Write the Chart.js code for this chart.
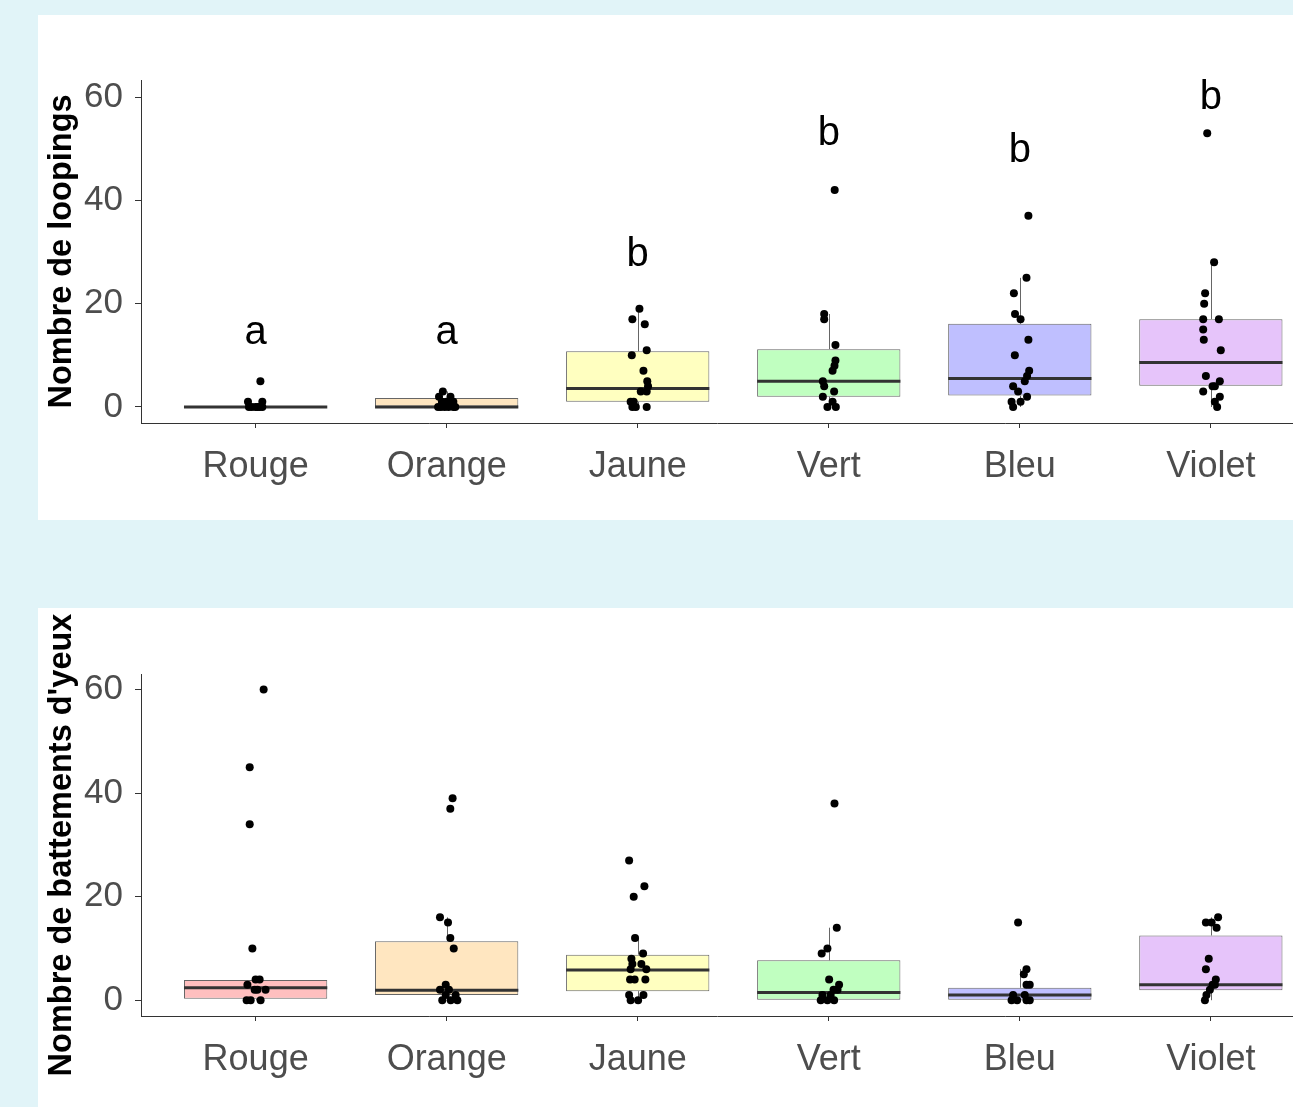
<!DOCTYPE html>
<html>
<head>
<meta charset="utf-8">
<script src="https://cdn.jsdelivr.net/npm/chart.js@4.4.0/dist/chart.umd.min.js"></script>
<style>
  html, body { margin: 0; padding: 0; }
  body { width: 1293px; height: 1107px; background: #e1f4f8; overflow: hidden; position: relative; }
  .panel { position: absolute; left: 38px; background: #ffffff; }
  #panelTop { top: 15px; width: 1259px; height: 505px; }
  #panelBottom { top: 608px; width: 1259px; height: 499px; }
</style>
</head>
<body>
<div class="panel" id="panelTop"><canvas id="chartTop" width="1259" height="505"></canvas></div>
<div class="panel" id="panelBottom"><canvas id="chartBottom" width="1259" height="499"></canvas></div>
<script>
// Categories and colours
const categories = ["Rouge", "Orange", "Jaune", "Vert", "Bleu", "Violet"];
const boxFill = ["#ffbfbf", "#ffe6c0", "#ffffc0", "#c0ffc0", "#bfbfff", "#e6c4fa"];

// Top chart: Nombre de loopings
const topQ1 = [0, 0, 1.0, 2.0, 2.2, 4.1];
const topMedian = [0, 0, 3.6, 5.0, 5.5, 8.6];
const topQ3 = [0, 1.75, 10.8, 11.2, 16.1, 17.0];
const topWhiskerLow = [0, 0, 0, 0, 0, 0];
const topWhiskerHigh = [0, 3, 19, 18, 25, 28];
const topLetters = ["a", "a", "b", "b", "b", "b"];
const topLetterY = [14.3, 14.3, 29.4, 52.8, 49.5, 59.8];

const topValues = [
  [5, 1, 1, 0, 0, 0, 0, 0, 0],
  [3, 2, 2, 1, 1, 1, 0, 0, 0, 0, 0, 0],
  [19, 17, 16, 11, 10, 7, 5, 4, 3, 3, 1, 1, 0, 0, 0],
  [42, 18, 17, 12, 9, 8, 7, 5, 4, 3, 2, 1, 0, 0],
  [37, 25, 22, 18, 17, 13, 10, 7, 6, 5, 4, 3, 2, 1, 1, 0],
  [53, 28, 22, 20, 17, 17, 15, 13, 11, 6, 5, 4, 4, 3, 2, 1, 0],
];
const topJitter = [
  [0.025, -0.04, 0.035, -0.035, 0.01, 0.035, -0.02, 0.0, 0.02],
  [-0.02, -0.04, 0.02, 0.035, -0.025, 0.0, -0.03, -0.01, 0.01, 0.035, 0.045, -0.045],
  [0.009, -0.028, 0.037, 0.047, -0.031, 0.03, 0.05, 0.054, 0.047, 0.016, -0.037, -0.021, -0.028, -0.01, 0.047],
  [0.031, -0.024, -0.024, 0.035, 0.035, 0.03, 0.02, -0.031, -0.024, 0.028, -0.031, 0.02, -0.007, 0.037],
  [0.045, 0.035, -0.031, -0.025, 0.004, 0.045, -0.026, 0.049, 0.038, 0.026, -0.035, -0.009, 0.038, -0.043, 0.004, -0.035],
  [-0.019, 0.017, -0.03, -0.035, -0.04, 0.042, -0.04, -0.037, 0.052, -0.026, 0.047, 0.021, 0.009, -0.04, 0.047, 0.021, 0.033],
];

// Bottom chart: Nombre de battements d'yeux
const botQ1 = [0.3, 1.0, 1.75, 0, 0, 1.9];
const botMedian = [2.4, 1.9, 5.85, 1.5, 1.0, 3.0];
const botQ3 = [3.9, 11.4, 8.8, 7.7, 2.4, 12.5];
const botWhiskerLow = [0, 0, 0, 0, 0, 0];
const botWhiskerHigh = [4, 16, 12, 14, 6, 16];

const botValues = [
  [60, 45, 34, 10, 4, 4, 3, 2, 2, 2, 0, 0, 0],
  [39, 37, 16, 15, 12, 10, 3, 2, 2, 1, 1, 0, 0, 0],
  [27, 22, 20, 12, 9, 8, 7, 7, 6, 6, 4, 4, 4, 1, 1, 0, 0],
  [38, 14, 10, 9, 4, 3, 2, 2, 1, 1, 0, 0, 0],
  [15, 6, 5, 3, 3, 1, 1, 0, 0, 0, 0],
  [16, 15, 15, 14, 8, 6, 4, 3, 3, 2, 1, 0],
];
const botJitter = [
  [0.042, -0.031, -0.031, -0.017, 0.0, 0.021, -0.043, 0.009, 0.052, -0.005, -0.047, -0.026, 0.026],
  [0.031, 0.019, -0.035, 0.007, 0.019, 0.037, -0.005, -0.035, 0.012, 0.047, -0.005, -0.023, 0.021, 0.056],
  [-0.045, 0.035, -0.021, -0.014, 0.028, -0.033, 0.019, -0.028, 0.045, -0.037, -0.04, -0.016, 0.04, -0.045, 0.03, -0.037, 0.002],
  [0.03, 0.042, -0.007, -0.037, 0.002, 0.054, 0.025, 0.046, -0.033, 0.01, -0.042, -0.007, 0.028],
  [-0.009, 0.035, 0.021, 0.035, 0.052, -0.035, 0.026, -0.043, -0.014, 0.035, 0.052],
  [0.038, -0.026, 0.004, 0.03, -0.011, -0.026, 0.026, 0.009, 0.021, -0.005, -0.023, -0.031],
];

const yTicks = [0, 20, 40, 60];
const fontFamily = "'Liberation Sans', Arial, sans-serif";
const boxWidth = 0.75;

// Plugin: whiskers behind the boxes, medians on the boxes, letters on top
const boxExtras = {
  id: "boxExtras",
  beforeDatasetsDraw(chart) {
    const o = chart.options.plugins.boxExtras;
    const x = chart.scales.x, y = chart.scales.y, ctx = chart.ctx;
    ctx.save();
    ctx.strokeStyle = "#666666";
    ctx.lineWidth = 1;
    categories.forEach((c, i) => {
      const px = Math.round(x.getPixelForValue(i)) + 0.5;
      ctx.beginPath();
      ctx.moveTo(px, y.getPixelForValue(o.q3[i]));
      ctx.lineTo(px, y.getPixelForValue(o.high[i]));
      ctx.moveTo(px, y.getPixelForValue(o.q1[i]));
      ctx.lineTo(px, y.getPixelForValue(o.low[i]));
      ctx.stroke();
    });
    ctx.restore();
  },
  afterDatasetDraw(chart, args) {
    if (args.index !== 0) return;
    const o = chart.options.plugins.boxExtras;
    const x = chart.scales.x, y = chart.scales.y, ctx = chart.ctx;
    ctx.save();
    ctx.strokeStyle = "#333333";
    ctx.lineWidth = 3;
    categories.forEach((c, i) => {
      const left = x.getPixelForValue(i - boxWidth / 2);
      const right = x.getPixelForValue(i + boxWidth / 2);
      const py = y.getPixelForValue(o.median[i]);
      ctx.beginPath();
      ctx.moveTo(left, py);
      ctx.lineTo(right, py);
      ctx.stroke();
    });
    ctx.restore();
  },
  afterDatasetsDraw(chart) {
    const o = chart.options.plugins.boxExtras;
    if (!o.letters) return;
    const x = chart.scales.x, y = chart.scales.y, ctx = chart.ctx;
    ctx.save();
    ctx.fillStyle = "#000000";
    ctx.font = "40px " + fontFamily;
    ctx.textAlign = "center";
    ctx.textBaseline = "middle";
    o.letters.forEach((t, i) => {
      ctx.fillText(t, x.getPixelForValue(i), y.getPixelForValue(o.letterY[i]));
    });
    ctx.restore();
  },
};

function makeChart(canvasId, cfg) {
  const boxData = categories.map((c, i) => ({ x: i, y: [cfg.q1[i], cfg.q3[i]] }));
  const pointData = [];
  cfg.values.forEach((vals, i) => {
    vals.forEach((v, k) => pointData.push({ x: i + cfg.jitter[i][k], y: v }));
  });

  return new Chart(document.getElementById(canvasId), {
    type: "bar",
    data: {
      datasets: [
        {
          type: "bar",
          data: boxData,
          backgroundColor: boxFill,
          borderColor: "#666666",
          borderWidth: 1,
          borderSkipped: false,
          barPercentage: boxWidth,
          categoryPercentage: 1,
          order: 2,
        },
        {
          type: "scatter",
          data: pointData,
          backgroundColor: "#000000",
          borderWidth: 0,
          pointRadius: 4,
          order: 1,
        },
      ],
    },
    options: {
      responsive: false,
      animation: false,
      devicePixelRatio: 1,
      layout: { padding: { top: cfg.top, right: 0, bottom: 0, left: 0 } },
      plugins: {
        legend: { display: false },
        tooltip: { enabled: false },
        boxExtras: {
          q1: cfg.q1, q3: cfg.q3, median: cfg.median,
          low: cfg.low, high: cfg.high,
          letters: cfg.letters, letterY: cfg.letterY,
        },
      },
      scales: {
        x: {
          type: "linear",
          min: -0.6,
          max: 5.43,
          offset: false,
          afterBuildTicks: (s) => { s.ticks = categories.map((c, i) => ({ value: i })); },
          afterFit: (s) => {
            s.height = cfg.xHeight;
            s.paddingLeft = 0;
            s.paddingRight = 0;
          },
          ticks: {
            callback: (v) => categories[v],
            color: "#4d4d4d",
            font: { family: fontFamily, size: 36 },
            padding: 17,
            maxRotation: 0,
            autoSkip: false,
          },
          grid: { display: true, offset: false, drawOnChartArea: false, drawTicks: true, tickLength: 5, color: "#333333" },
          border: { display: true, color: "#333333", width: 1 },
        },
        y: {
          min: cfg.yMin,
          max: cfg.yMax,
          afterBuildTicks: (s) => { s.ticks = yTicks.map((v) => ({ value: v })); },
          afterFit: (s) => { s.width = 103; },
          ticks: {
            color: "#4d4d4d",
            font: { family: fontFamily, size: 35 },
            padding: 12,
          },
          grid: { display: true, drawOnChartArea: false, drawTicks: true, tickLength: 6, color: "#333333" },
          border: { display: true, color: "#333333", width: 1 },
          title: {
            display: true,
            text: cfg.title,
            color: "#000000",
            font: { family: fontFamily, size: 32.5, weight: "bold" },
            padding: { top: 5, bottom: 0 },
          },
        },
      },
    },
    plugins: [boxExtras],
  });
}

makeChart("chartTop", {
  q1: topQ1, q3: topQ3, median: topMedian, low: topWhiskerLow, high: topWhiskerHigh,
  values: topValues, jitter: topJitter,
  letters: topLetters, letterY: topLetterY,
  yMin: -3.1, yMax: 63.3, top: 65, xHeight: 97,
  title: "Nombre de loopings",
});

makeChart("chartBottom", {
  q1: botQ1, q3: botQ3, median: botMedian, low: botWhiskerLow, high: botWhiskerHigh,
  values: botValues, jitter: botJitter,
  letters: null, letterY: null,
  yMin: -3.05, yMax: 63, top: 66, xHeight: 91,
  title: "Nombre de battements d'yeux",
});
</script>
</body>
</html>
